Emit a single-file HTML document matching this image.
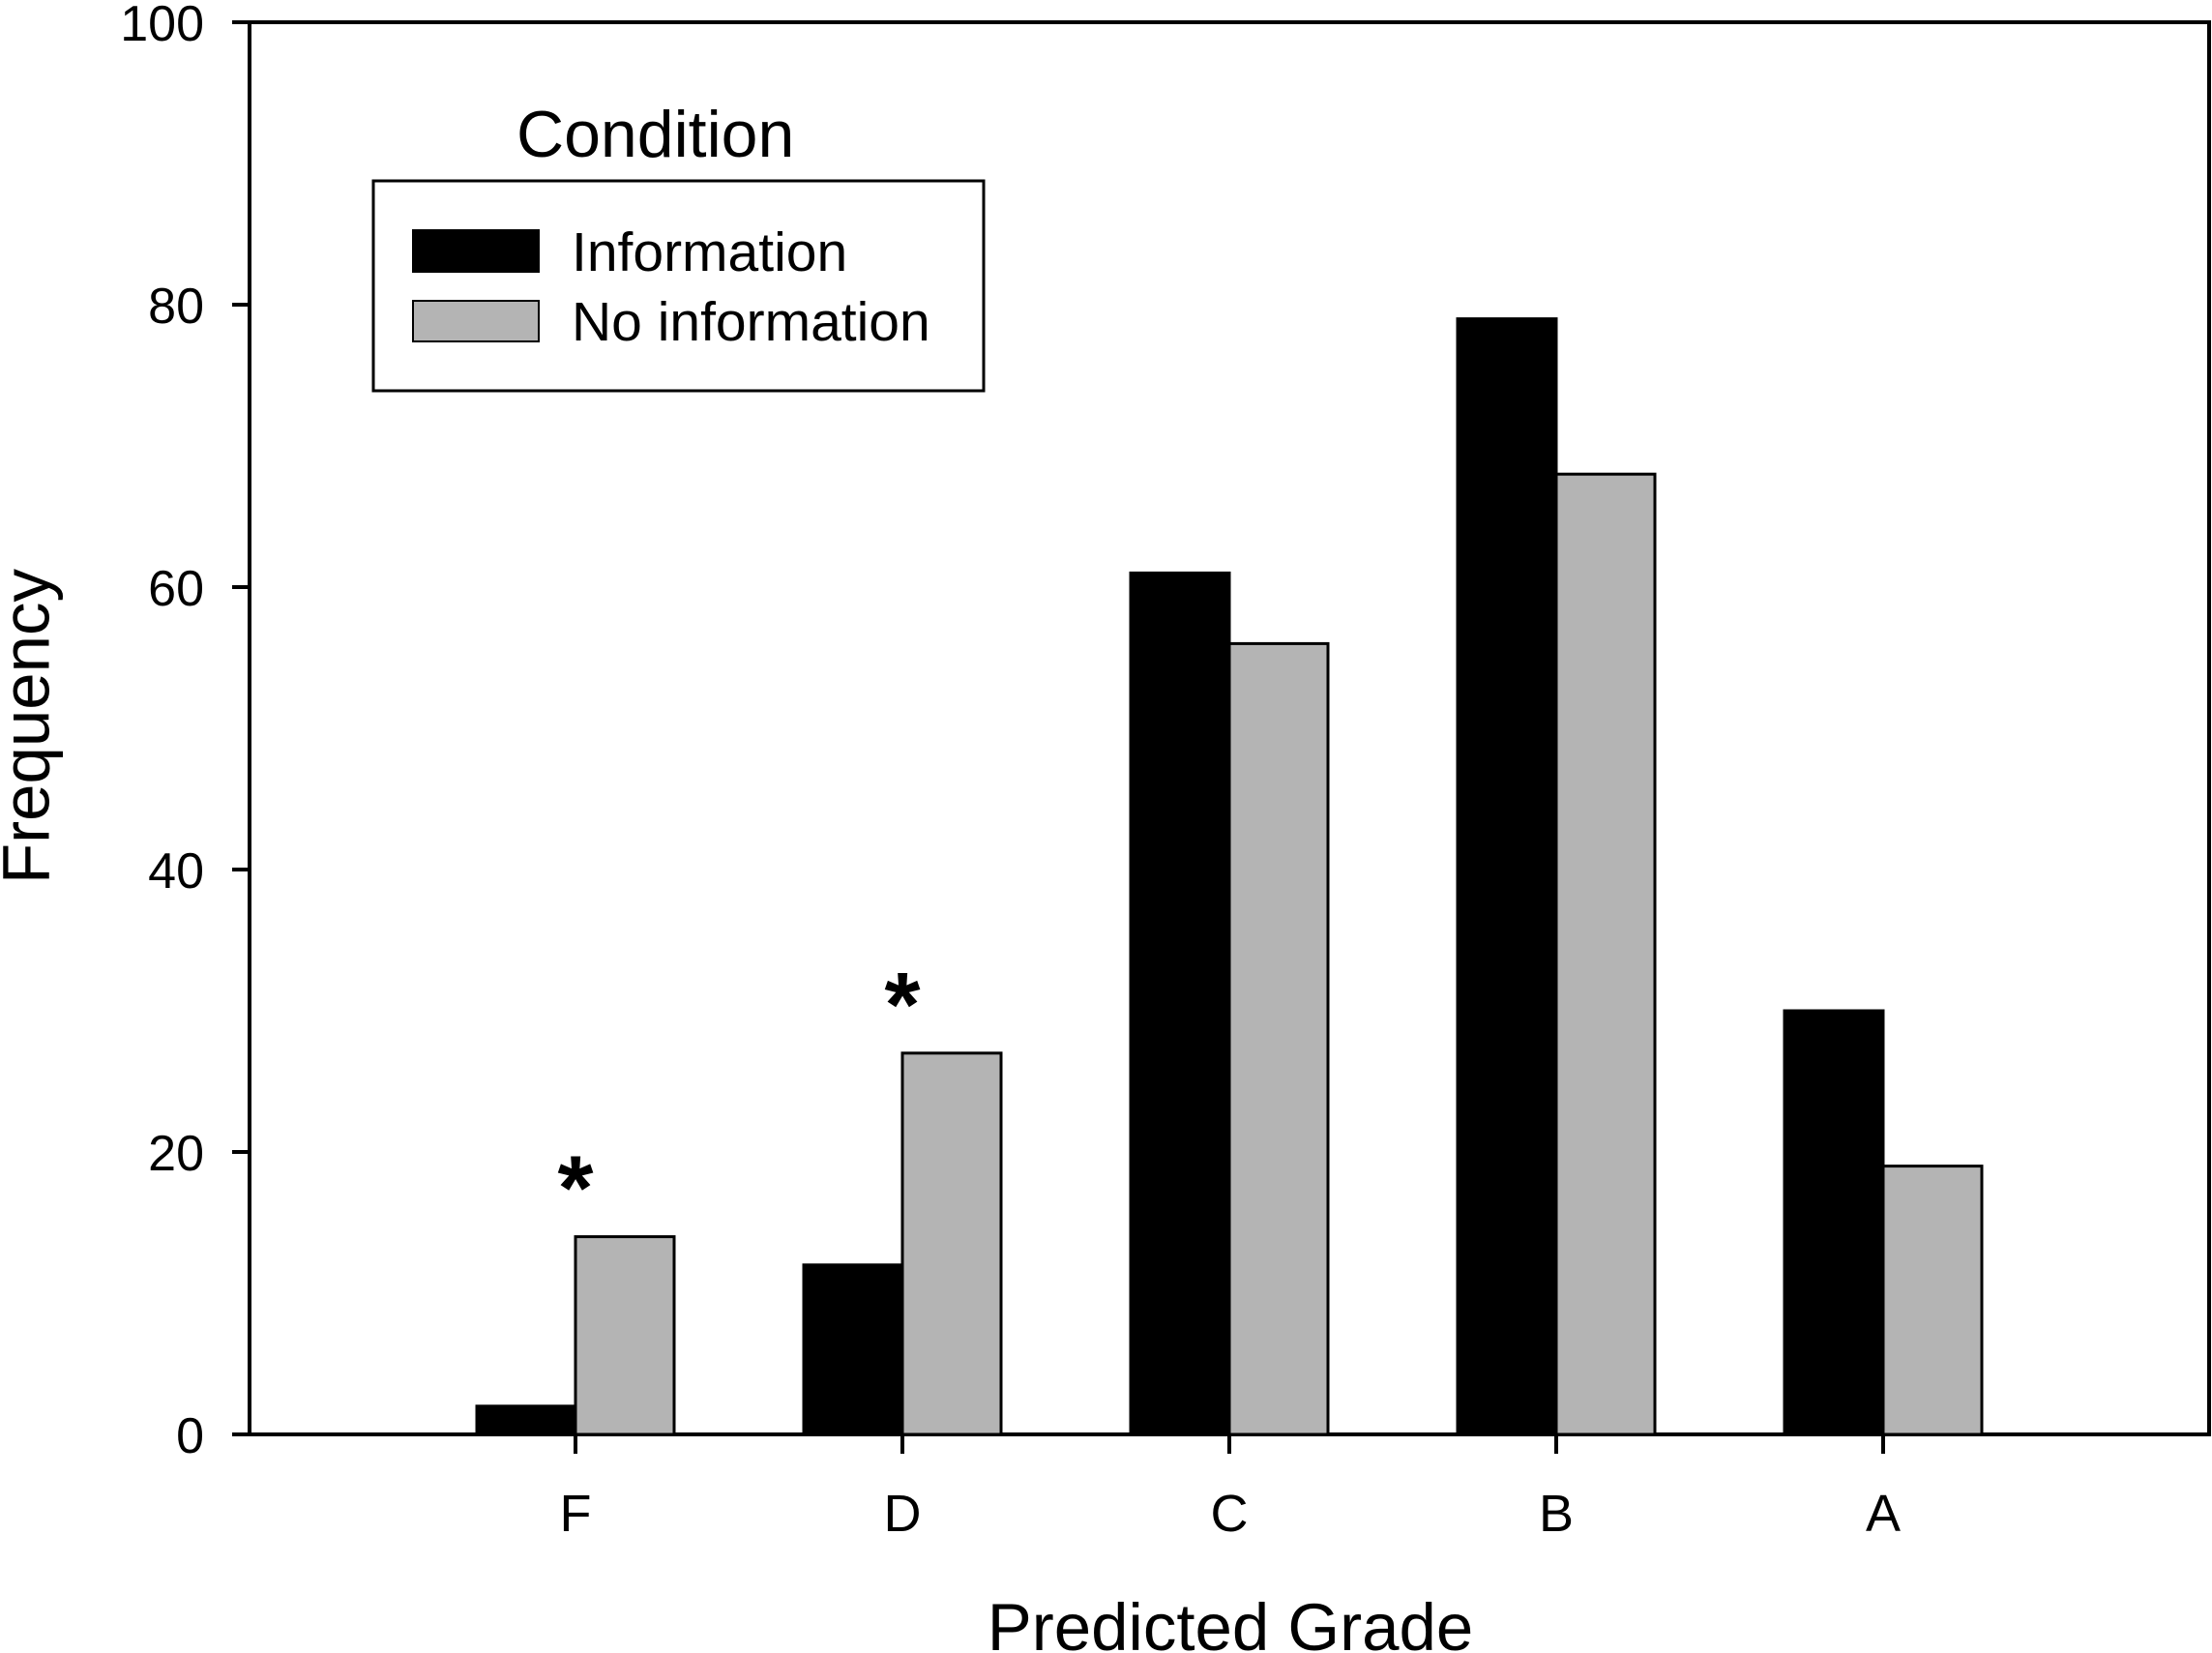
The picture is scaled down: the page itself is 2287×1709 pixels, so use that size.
<!DOCTYPE html>
<html><head><meta charset="utf-8"><style>
body{margin:0;background:#fff}
svg{display:block;font-family:"Liberation Sans",Arial,sans-serif}
</style></head><body>
<svg id="chart" width="2287" height="1709" viewBox="0 0 2287 1709" xmlns="http://www.w3.org/2000/svg">
<rect x="258" y="23" width="2026" height="1460" fill="none" stroke="#000" stroke-width="4"/>
<g id="bars"></g><g id="axes"></g>
<text x="27" y="751" font-size="69" text-anchor="middle" transform="rotate(-90 27 751)" dominant-baseline="central">Frequency</text>
<text x="1272" y="1706" font-size="69" text-anchor="middle">Predicted Grade</text>
<g>
<text x="534" y="162" font-size="68">Condition</text>
<rect x="386" y="187" width="631" height="217" fill="#fff" stroke="#000" stroke-width="3"/>
<rect x="427" y="238" width="130" height="43" fill="#000" stroke="#000" stroke-width="2"/>
<text x="591" y="280" font-size="57">Information</text>
<rect x="427" y="311" width="130" height="42" fill="#b4b4b4" stroke="#000" stroke-width="2"/>
<text x="591" y="352" font-size="57">No information</text>
</g>
</svg>
<script>
const categories=["F","D","C","B","A"];
const infoValues=[2,12,61,79,30];
const noInfoValues=[14,27,56,68,19];
const yTicks=[0,20,40,60,80,100];
const starCategories=["F","D"];
const NS="http://www.w3.org/2000/svg";
const L=258,R=2284,T=23,B=1483,X0=595,DX=338,BW=102;
function yS(v){return B-(v/100)*(B-T);}
function xS(i){return X0+i*DX;}
function mk(tag,attrs,parent){const e=document.createElementNS(NS,tag);for(const k in attrs)e.setAttribute(k,attrs[k]);parent.appendChild(e);return e;}
const bars=document.getElementById('bars'),axes=document.getElementById('axes');
categories.forEach((c,i)=>{
  const x=xS(i);
  let r=mk('rect',{x:x-BW,y:yS(infoValues[i]),width:BW,height:B-yS(infoValues[i]),fill:'#000',stroke:'#000','stroke-width':3},bars);
  
  
  let g=mk('rect',{x:x,y:yS(noInfoValues[i]),width:BW,height:B-yS(noInfoValues[i]),fill:'#b4b4b4',stroke:'#000','stroke-width':3},bars);
  
  
  let t=mk('line',{x1:x,x2:x,y1:B,y2:B+20,stroke:'#000','stroke-width':4},axes);
  
  
  let l=mk('text',{x:x,y:1583,'font-size':54,'text-anchor':'middle'},axes);
  l.textContent=c;
  
  
  if(starCategories.includes(c)){
    const top=Math.max(infoValues[i],noInfoValues[i]);
    let s=mk('text',{x:x,y:yS(top)-18,'font-size':95,'font-weight':'bold','text-anchor':'middle'},axes);
    s.textContent='*';
    
    
  }
});
yTicks.forEach(v=>{
  const y=yS(v);
  let t=mk('line',{x1:L-18,x2:L,y1:y,y2:y,stroke:'#000','stroke-width':4},axes);
  
  
  let l=mk('text',{x:211,y:y+19,'font-size':52,'text-anchor':'end'},axes);
  l.textContent=v;
  
  
});
</script>
</body></html>
